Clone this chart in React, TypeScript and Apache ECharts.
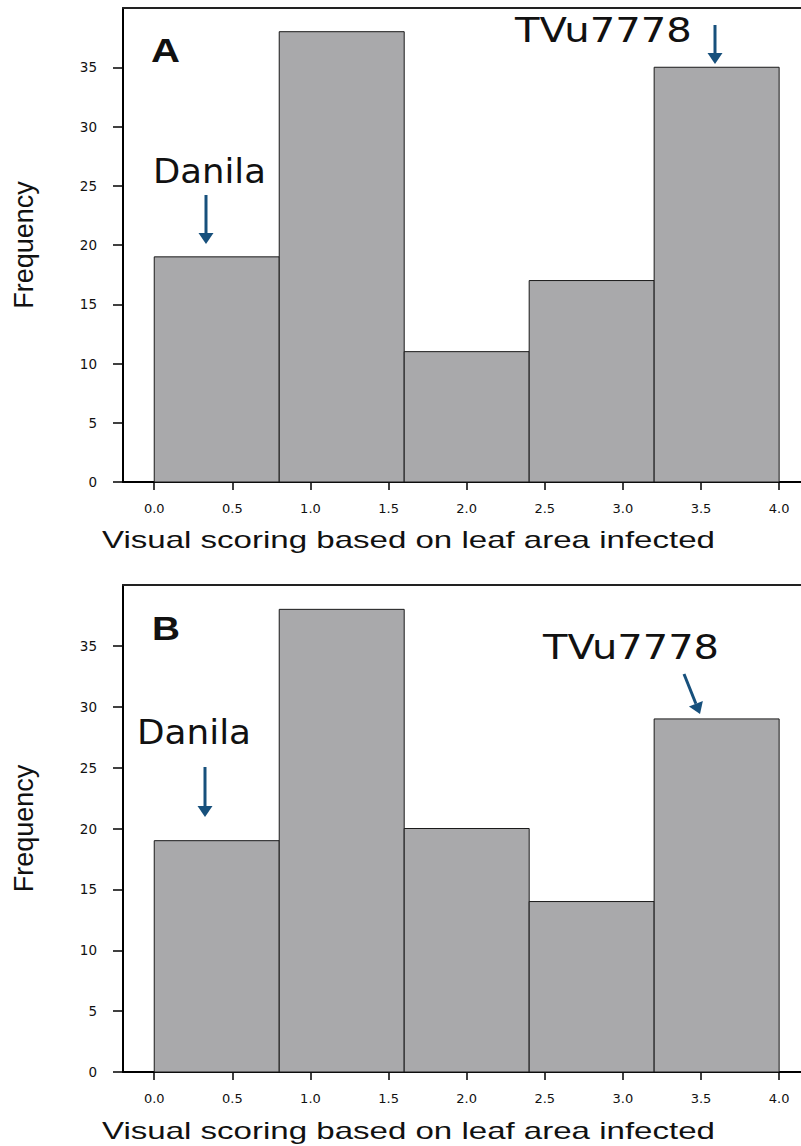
import React, { useEffect, useRef } from "react";
import * as echarts from "echarts";

// ---- data ----
const binEdges = [0, 0.8, 1.6, 2.4, 3.2, 4.0];
const countsA = [19, 38, 11, 17, 35];
const countsB = [19, 38, 20, 14, 29];
const xTicks = [0, 0.5, 1, 1.5, 2, 2.5, 3, 3.5, 4];
const yTicks = [0, 5, 10, 15, 20, 25, 30, 35];
const xAxisTitle = "Visual scoring based on leaf area infected";
const yAxisTitle = "Frequency";
const panelLabels = ["A", "B"];
const annotationLabels = ["Danila", "TVu7778"];

const ARROW = "#17507c";
const INK = "#111111";

function toBins(counts: number[]) {
  return counts.map((c, i) => [binEdges[i], binEdges[i + 1], c]);
}

function textWidth(text: string, font: string) {
  const ctx = document.createElement("canvas").getContext("2d")!;
  ctx.font = font;
  return ctx.measureText(text).width;
}

function fitText(text: string, left: number, cy: number, targetW: number, size: number, family: string, weight = "normal") {
  const w = textWidth(text, `${weight} ${size}px "${family}"`);
  return {
    type: "text",
    x: left,
    y: cy,
    scaleX: w > 0 ? targetW / w : 1,
    style: {
      text,
      fontSize: size,
      fontFamily: family,
      fontWeight: weight,
      fill: INK,
      align: "left",
      textAlign: "left",
      verticalAlign: "middle",
      textVerticalAlign: "middle",
    },
  };
}

function arrow(x1: number, y1: number, x2: number, y2: number) {
  const dx = x2 - x1, dy = y2 - y1;
  const len = Math.hypot(dx, dy);
  const ux = dx / len, uy = dy / len;
  const headL = 11, headW = 7.5;
  const bx = x2 - ux * headL, by = y2 - uy * headL;
  const px = -uy, py = ux;
  return [
    { type: "line", shape: { x1, y1, x2: bx, y2: by }, style: { stroke: ARROW, lineWidth: 3 } },
    {
      type: "polygon",
      shape: { points: [[bx + px * headW, by + py * headW], [bx - px * headW, by - py * headW], [x2, y2]] },
      style: { fill: ARROW },
    },
  ];
}

const X_MIN = -0.2;
const X_MAX = 4.14;

function renderBar(_params: any, api: any) {
  const x0 = api.value(0), x1 = api.value(1), h = api.value(2);
  const p0 = api.coord([x0, h]);
  const p1 = api.coord([x1, 0]);
  return {
    type: "rect",
    shape: { x: p0[0], y: p0[1], width: p1[0] - p0[0], height: p1[1] - p0[1] },
    style: { fill: "#a9a9ab", stroke: "#1a1a1a", lineWidth: 1 },
  };
}

function bottomX(gridIndex: number) {
  return {
    type: "value",
    gridIndex,
    position: "bottom",
    min: X_MIN,
    max: X_MAX,
    axisLine: { show: true, onZero: false, lineStyle: { color: "#000", width: 2 } },
    axisTick: { show: true, length: 8, lineStyle: { color: "#000", width: 1.5 }, customValues: xTicks },
    axisLabel: {
      show: true,
      customValues: xTicks,
      formatter: (v: number) => v.toFixed(1),
      fontFamily: "DejaVu Sans",
      fontSize: 13,
      color: INK,
      margin: 20,
    },
    splitLine: { show: false },
  };
}

function topX(gridIndex: number) {
  return {
    type: "value",
    gridIndex,
    position: "top",
    min: X_MIN,
    max: X_MAX,
    axisLine: { show: true, onZero: false, lineStyle: { color: "#222", width: 2 } },
    axisTick: { show: false },
    axisLabel: { show: false },
    splitLine: { show: false },
  };
}

function leftY(gridIndex: number) {
  return {
    type: "value",
    gridIndex,
    min: 0,
    max: 40,
    interval: 5,
    name: yAxisTitle,
    nameLocation: "middle",
    nameGap: 86,
    nameTextStyle: { fontFamily: "Liberation Sans", fontSize: 27, color: INK },
    axisLine: { show: true, onZero: false, lineStyle: { color: "#000", width: 2 } },
    axisTick: { show: true, length: 10, lineStyle: { color: "#000", width: 1.5 }, customValues: yTicks },
    axisLabel: {
      show: true,
      customValues: yTicks,
      fontFamily: "DejaVu Sans",
      fontSize: 13.5,
      color: INK,
      margin: 26,
    },
    splitLine: { show: false },
  };
}

export default function App() {
  const ref = useRef<HTMLDivElement>(null);

  useEffect(() => {
    document.body.style.margin = "0";
    if (!ref.current) return;
    const chart = echarts.init(ref.current, null, { renderer: "svg" });

    const graphic: any[] = [
      fitText(panelLabels[0], 151, 51, 29, 33, "Liberation Sans", "bold"),
      fitText(panelLabels[1], 152, 629, 28, 33, "Liberation Sans", "bold"),
      fitText(annotationLabels[0], 153, 171, 113, 33, "DejaVu Sans"),
      fitText(annotationLabels[1], 515, 30.5, 177, 33, "DejaVu Sans"),
      fitText(annotationLabels[0], 137, 732, 114, 33, "DejaVu Sans"),
      fitText(annotationLabels[1], 543, 648, 176, 33, "DejaVu Sans"),
      fitText(xAxisTitle, 102, 540, 613, 24, "Liberation Sans"),
      fitText(xAxisTitle, 102, 1131, 613, 24, "Liberation Sans"),
      ...arrow(206, 195, 206, 244),
      ...arrow(715, 25, 715, 64),
      ...arrow(205, 767, 205, 817),
      ...arrow(684, 674, 700, 714),
    ];

    chart.setOption({
      animation: false,
      backgroundColor: "#ffffff",
      grid: [
        { left: 123, right: 0, top: 8, height: 474, containLabel: false },
        { left: 123, right: 0, top: 585, height: 487, containLabel: false },
      ],
      xAxis: [bottomX(0), topX(0), bottomX(1), topX(1)],
      yAxis: [leftY(0), leftY(1)],
      series: [
        {
          type: "custom",
          xAxisIndex: 0,
          yAxisIndex: 0,
          renderItem: renderBar,
          encode: { x: [0, 1], y: 2 },
          data: toBins(countsA),
        },
        {
          type: "custom",
          xAxisIndex: 2,
          yAxisIndex: 1,
          renderItem: renderBar,
          encode: { x: [0, 1], y: 2 },
          data: toBins(countsB),
        },
      ],
      graphic,
    });

    return () => {
      chart.dispose();
    };
  }, []);

  return <div ref={ref} style={{ width: 801, height: 1146 }} />;
}
